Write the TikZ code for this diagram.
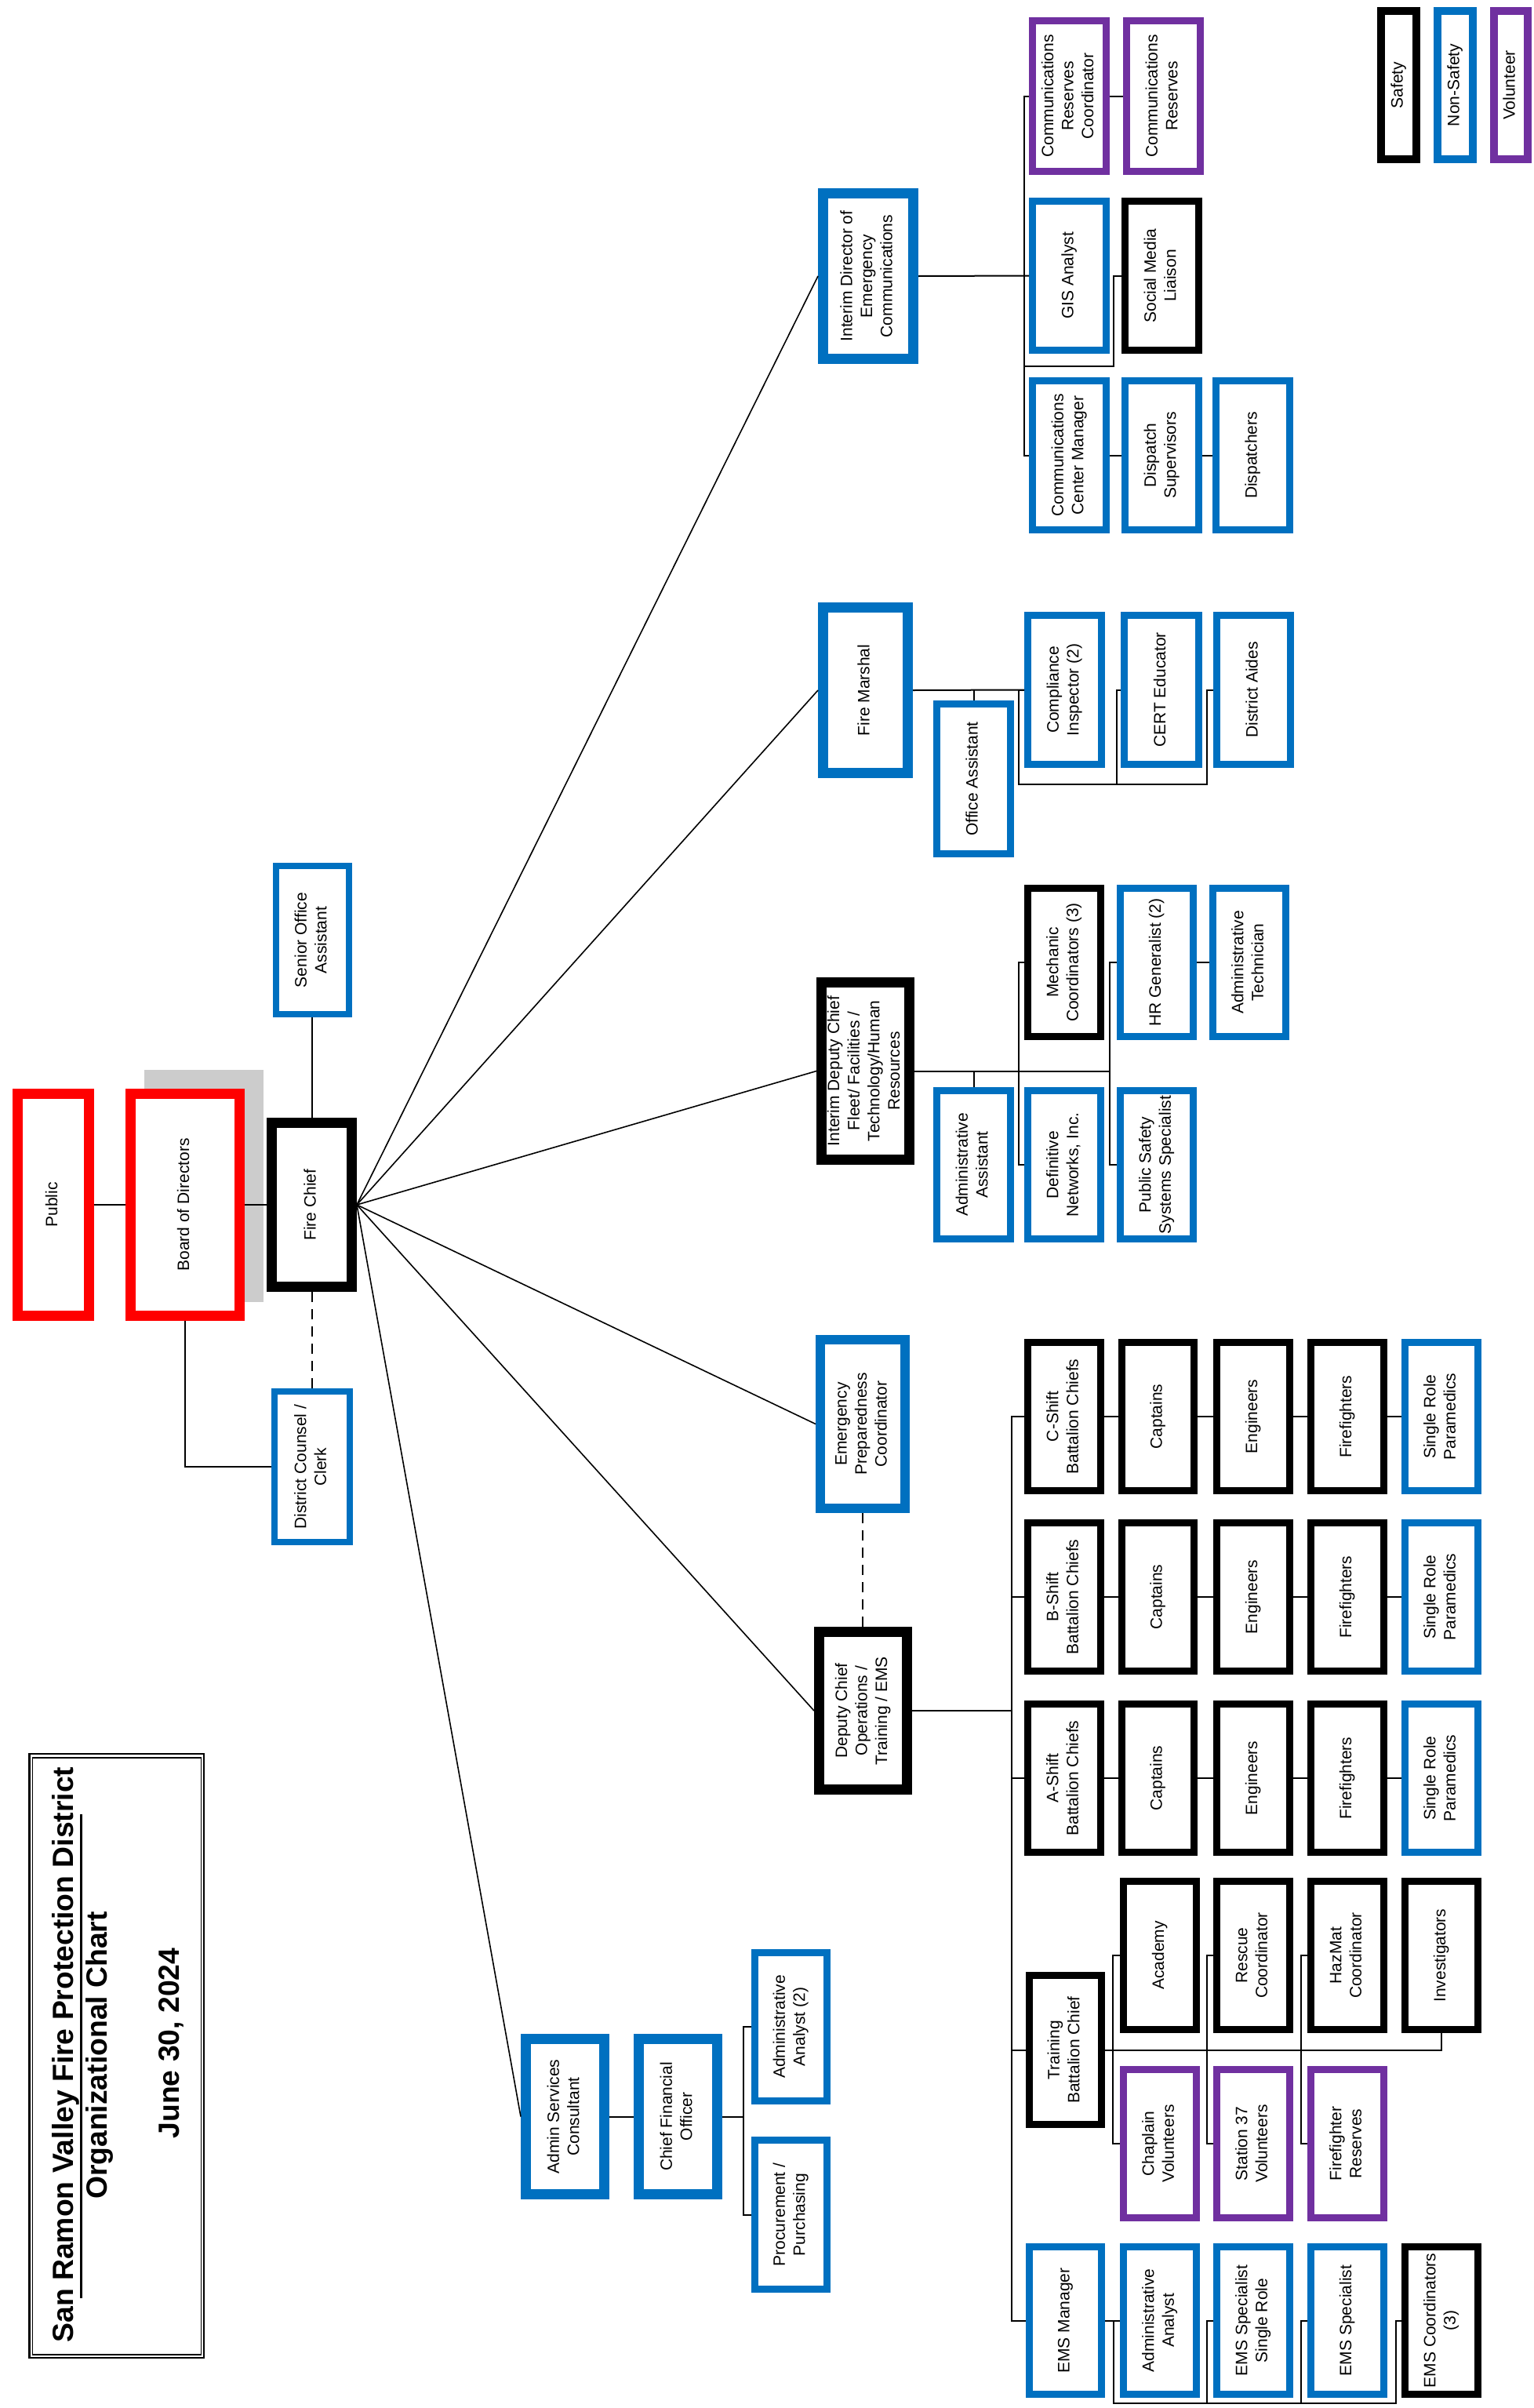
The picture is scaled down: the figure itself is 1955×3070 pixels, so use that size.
\documentclass[tikz,border=0pt]{standalone}
\usepackage{fontspec}
\setmainfont{Liberation Sans}
\usepackage{graphicx}
\usetikzlibrary{calc}
\definecolor{srred}{HTML}{FF0000}
\definecolor{srblue}{HTML}{0070C0}
\definecolor{srpurple}{HTML}{7030A0}
\definecolor{srgray}{HTML}{CCCCCC}
\newcommand\rtext[1]{\rotatebox{90}{\begin{tabular}{@{}c@{}}#1\end{tabular}}}
% name, style, line width, x1, y1, x2, y2 (outer edges, px), text
\newcommand\bx[8]{%
  \pgfmathsetmacro\bxw{#6-#4-#3}%
  \pgfmathsetmacro\bxh{#7-#5-#3}%
  \node[orgbox,#2,line width=#3pt,minimum width=\bxw pt,minimum height=\bxh pt] (#1) at ({(#4+#6)/2},{(#5+#7)/2}) {\rtext{#8}};}
\tikzset{
  orgbox/.style={draw, fill=white, inner sep=0pt, font=\fontsize{21}{25.6}\selectfont},
  safety/.style={draw=black},
  nonsafety/.style={draw=srblue},
  volunteer/.style={draw=srpurple},
  elected/.style={draw=srred},
  link/.style={line width=2pt, draw=black},
  fan/.style={line width=1.6pt, draw=black},
  dashlink/.style={line width=2pt, dash pattern=on 13pt off 9pt},
  titletext/.style={font=\fontsize{37.3}{43}\selectfont\bfseries, inner sep=0pt, rotate=90, anchor=base}
}
\begin{document}
\begin{tikzpicture}[x=1pt,y=-1pt]
\useasboundingbox (0,0) rectangle (1955,3070);
\fill[white] (0,0) rectangle (1955,3070);

% title block
\draw[line width=2.3pt] (37.5,2236) rectangle (260,3006);
\draw[line width=1.3pt] (41.5,2241) rectangle (256.5,3002);
\node[titletext] (title1) at (93,2619.5) {San Ramon Valley Fire Protection District};
\node[titletext] (title2) at (136.5,2620.5) {Organizational Chart};
\node[titletext] (title3) at (228,2605) {June 30, 2024};
\draw[line width=3pt] (103.5,2313) -- (103.5,2930);

% top of the chart
\fill[srgray] (184,1364) rectangle (336,1660);
\bx{public}{elected}{13}{16}{1388}{120}{1684}{Public}
\bx{board}{elected}{13}{160}{1388}{312}{1684}{Board of Directors}
\bx{firechief}{safety}{13}{340}{1425}{455}{1647}{Fire Chief}
\bx{senior}{nonsafety}{8}{348}{1100}{449}{1297}{Senior Office\\Assistant}
\bx{counsel}{nonsafety}{8}{346}{1770}{450}{1970}{District Counsel /\\Clerk}

% level 1
\bx{asc}{nonsafety}{13}{664}{2593}{777}{2804}{Admin Services\\Consultant}
\bx{cfo}{nonsafety}{13}{808}{2593}{921}{2804}{Chief Financial\\Officer}
\bx{dco}{safety}{13}{1038}{2074}{1163}{2288}{Deputy Chief\\Operations /\\Training / EMS}
\bx{epc}{nonsafety}{12}{1040}{1702}{1160}{1929}{Emergency\\Preparedness\\Coordinator}
\bx{idc}{safety}{13}{1041}{1246}{1166}{1485}{Interim Deputy Chief\\Fleet/ Facilities /\\Technology/Human\\Resources}
\bx{fm}{nonsafety}{13}{1043}{768}{1164}{992}{Fire Marshal}
\bx{ided}{nonsafety}{13}{1043}{240}{1171}{464}{Interim Director of\\Emergency\\Communications}

% finance
\bx{aa2}{nonsafety}{9}{958}{2485}{1059}{2683}{Administrative\\Analyst (2)}
\bx{proc}{nonsafety}{9}{958}{2724}{1059}{2923}{Procurement /\\Purchasing}

% emergency communications
\bx{crc}{volunteer}{9}{1312}{22}{1415}{223}{Communications\\Reserves\\Coordinator}
\bx{cr}{volunteer}{9}{1432}{22}{1535}{223}{Communications\\Reserves}
\bx{gis}{nonsafety}{9}{1312}{252}{1415}{451}{GIS Analyst}
\bx{sml}{safety}{9}{1430}{252}{1533}{451}{Social Media\\Liaison}
\bx{ccm}{nonsafety}{9}{1312}{481}{1415}{680}{Communications\\Center Manager}
\bx{dsup}{nonsafety}{9}{1430}{481}{1533}{680}{Dispatch\\Supervisors}
\bx{disp}{nonsafety}{9}{1546}{481}{1649}{680}{Dispatchers}

% fire marshal
\bx{oa}{nonsafety}{9}{1190}{893}{1293}{1093}{Office Assistant}
\bx{ci}{nonsafety}{9}{1306}{780}{1409}{979}{Compliance\\Inspector (2)}
\bx{cert}{nonsafety}{9}{1429}{780}{1533}{979}{CERT Educator}
\bx{aides}{nonsafety}{9}{1547}{780}{1650}{979}{District Aides}

% fleet / facilities / HR
\bx{mech}{safety}{9}{1306}{1128}{1408}{1326}{Mechanic\\Coordinators (3)}
\bx{hr}{nonsafety}{9}{1424}{1128}{1526}{1326}{HR Generalist (2)}
\bx{atech}{nonsafety}{9}{1542}{1128}{1644}{1326}{Administrative\\Technician}
\bx{adasst}{nonsafety}{9}{1190}{1386}{1293}{1584}{Administrative\\Assistant}
\bx{dni}{nonsafety}{9}{1306}{1386}{1408}{1584}{Definitive\\Networks, Inc.}
\bx{psss}{nonsafety}{9}{1424}{1386}{1526}{1584}{Public Safety\\Systems Specialist}

% shifts
\foreach \r/\ya/\yb/\L in {c/1707/1905/C, b/1937/2135/B, a/2168/2366/A}{
  \bx{\r bc}{safety}{9}{1306}{\ya}{1408}{\yb}{\L-Shift\\Battalion Chiefs}
  \bx{\r cap}{safety}{9}{1426}{\ya}{1527}{\yb}{Captains}
  \bx{\r eng}{safety}{9}{1547}{\ya}{1649}{\yb}{Engineers}
  \bx{\r ff}{safety}{9}{1667}{\ya}{1769}{\yb}{Firefighters}
  \bx{\r pm}{nonsafety}{9}{1787}{\ya}{1889}{\yb}{Single Role\\Paramedics}
  \draw[link] (\r bc.east) -- (\r cap.west) (\r cap.east) -- (\r eng.west)
              (\r eng.east) -- (\r ff.west) (\r ff.east) -- (\r pm.west);
}

% training
\bx{tbc}{safety}{9}{1308}{2514}{1409}{2713}{Training\\Battalion Chief}
\bx{academy}{safety}{9}{1428}{2394}{1530}{2592}{Academy}
\bx{rescue}{safety}{9}{1547}{2394}{1649}{2592}{Rescue\\Coordinator}
\bx{hazmat}{safety}{9}{1667}{2394}{1769}{2592}{HazMat\\Coordinator}
\bx{invest}{safety}{9}{1787}{2394}{1889}{2592}{Investigators}
\bx{chaplain}{volunteer}{9}{1428}{2634}{1530}{2832}{Chaplain\\Volunteers}
\bx{st37}{volunteer}{9}{1547}{2634}{1649}{2832}{Station 37\\Volunteers}
\bx{ffres}{volunteer}{9}{1667}{2634}{1769}{2832}{Firefighter\\Reserves}

% EMS
\bx{emsm}{nonsafety}{9}{1308}{2860}{1409}{3057}{EMS Manager}
\bx{emsaa}{nonsafety}{9}{1428}{2860}{1530}{3057}{Administrative\\Analyst}
\bx{emssr}{nonsafety}{9}{1547}{2860}{1649}{3057}{EMS Specialist\\Single Role}
\bx{emss}{nonsafety}{9}{1667}{2860}{1769}{3057}{EMS Specialist}
\bx{emsc}{safety}{9}{1787}{2860}{1889}{3057}{EMS Coordinators\\(3)}

% legend
\bx{legsafe}{safety}{10}{1756}{9}{1811}{208}{Safety}
\bx{legnon}{nonsafety}{10}{1828}{9}{1883}{208}{Non-Safety}
\bx{legvol}{volunteer}{10}{1900}{9}{1953}{208}{Volunteer}

% ---- connectors ----
\draw[link] (public.east) -- (board.west);
\draw[link] (board.east) -- (firechief.west);
\draw[link] (firechief.north) -- (firechief.north |- senior.south);
\draw[dashlink] (firechief.south) -- (firechief.south |- counsel.north);
\draw[link] (board.south) |- (counsel.west);

\foreach \t in {ided,fm,idc,epc,dco,asc}
  \draw[fan] (firechief.east) -- (\t.west);
\draw[dashlink] (epc.south) -- (epc.south |- dco.north);

% finance
\draw[link] (asc.east) -- (cfo.west);
\draw[link] (cfo.east) -| ([xshift=-10pt]aa2.west) -- (aa2.west);
\draw[link] (cfo.east) -| ([xshift=-10pt]proc.west) -- (proc.west);

% operations bus
\coordinate (opsbus) at ([xshift=-16pt]cbc.west);
\draw[link] (dco.east) -| (opsbus) -- (cbc.west);
\foreach \t in {bbc,abc,tbc,emsm}
  \draw[link] (opsbus) |- (\t.west);

% training
\draw[link] (tbc.east) -| (invest.south);
\draw[link] (academy.west) -- ++(-9,0) |- (chaplain.west);
\draw[link] (rescue.west) -- ++(-8,0) |- (st37.west);
\draw[link] (hazmat.west) -- ++(-8,0) |- (ffres.west);

% EMS
\draw[link] (emsm.east) -- (emsaa.west);
\draw[link] (emsaa.west) -- ++(-8,0) -- ++(0,105) -| ([xshift=-7pt]emsc.west) -- (emsc.west);
\draw[link] (emssr.west) -- ++(-8,0) -- ++(0,105);
\draw[link] (emss.west) -- ++(-8,0) -- ++(0,105);

% fire marshal
\draw[link] (fm.east) -- (ci.west);
\draw[link] (oa.north) -- (oa.north |- fm.east);
\draw[link] (ci.west) -- ++(-7,0) -- ++(0,120) -| ([xshift=-8pt]aides.west) -- (aides.west);
\draw[link] (cert.west) -- ++(-5,0) -- ++(0,120);

% fleet / HR
\coordinate (hrb) at ([xshift=-9pt]hr.west);
\draw[link] (idc.east) -- (hrb |- idc.east);
\draw[link] (hr.west) -- (hrb) |- (psss.west);
\draw[link] (mech.west) -- ++(-7,0) |- (dni.west);
\draw[link] (adasst.north) -- (adasst.north |- idc.east);
\draw[link] (hr.east) -- (atech.west);

% communications
\coordinate (cbus) at ([xshift=-6pt]crc.west);
\draw[link] (ided.east) -- (gis.west);
\draw[link] (crc.west) -- (cbus) |- (ccm.west);
\draw[link] (crc.east) -- (cr.west);
\draw[link] (sml.west) -- ++(-10,0) -- ++(0,115) -| (cbus);
\draw[link] (ccm.east) -- (dsup.west);
\draw[link] (dsup.east) -- (disp.west);
\end{tikzpicture}
\end{document}
